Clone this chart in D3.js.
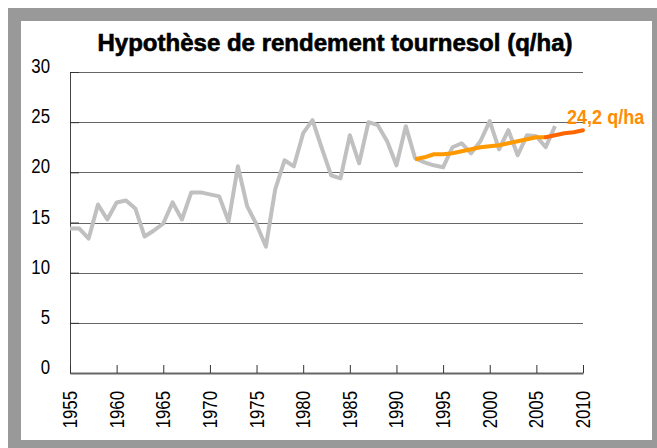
<!DOCTYPE html>
<html>
<head>
<meta charset="utf-8">
<script src="https://cdn.jsdelivr.net/npm/d3@7"></script>
<style>
  body { margin: 0; background: #fff; }
  svg { display: block; }
</style>
</head>
<body>
<div id="chart"></div>
<script>
const width = 657;
const height = 448;

// rendement observé (q/ha), 1955-2007
const histYears = d3.range(1955, 2008);
const histValues = [
  14.4, 14.4, 13.4, 16.8, 15.3, 17.0, 17.2, 16.4, 13.6, 14.2,
  14.9, 17.0, 15.3, 18.0, 18.0, 17.8, 17.6, 15.1, 20.6, 16.6,
  14.8, 12.6, 18.3, 21.2, 20.6, 23.9, 25.2, 22.4, 19.7, 19.4,
  23.7, 20.9, 25.0, 24.7, 23.1, 20.7, 24.6, 21.4, 21.0, 20.7,
  20.5, 22.5, 22.9, 21.9, 23.1, 25.1, 22.3, 24.2, 21.7, 23.7,
  23.6, 22.5, 24.6
];

// tendance / hypothèse
const trendYears = d3.range(1992, 2007);
const trendValues = [21.3, 21.5, 21.8, 21.8, 21.9, 22.1, 22.3, 22.5, 22.6, 22.7, 22.9, 23.1, 23.3, 23.5, 23.5];
const projYears = [2006, 2007, 2008, 2009, 2010];
const projValues = [23.5, 23.7, 23.9, 24.0, 24.2];

const xTicks = d3.range(1955, 2011, 5);
const yTicks = [0, 5, 10, 15, 20, 25, 30];
const title = "Hypothèse de rendement tournesol (q/ha)";
const endLabel = "24,2 q/ha";

const svg = d3.select("#chart")
    .append("svg")
    .attr("width", width)
    .attr("height", height);

// cadre gris
svg.append("rect")
    .attr("x", 8).attr("y", 8)
    .attr("width", width - 8).attr("height", height - 8)
    .attr("fill", "#999");
svg.append("rect")
    .attr("x", 21).attr("y", 21)
    .attr("width", 631).attr("height", 419)
    .attr("fill", "#fff");

const x = d3.scaleLinear().domain([1955, 2010]).range([70, 583]);
const y = d3.scaleLinear().domain([0, 30]).range([373, 72]);

// pas de police "narrow" : on condense Liberation Sans
const font = "'Liberation Sans', Arial, sans-serif";
const squeeze = 0.8;

// grille
svg.append("g")
    .selectAll("line")
    .data(yTicks.filter(d => d > 0))
    .join("line")
    .attr("x1", x(1955)).attr("x2", x(2010))
    .attr("y1", d => Math.round(y(d)) + 0.5)
    .attr("y2", d => Math.round(y(d)) + 0.5)
    .attr("stroke", "#666")
    .attr("stroke-width", 1);

// axe Y
const yAxis = svg.append("g")
    .attr("transform", `translate(${x(1955)},0)`)
    .call(d3.axisRight(y).tickValues(yTicks).tickSize(9).tickFormat(""));
yAxis.select(".domain").attr("stroke", "#444");
yAxis.selectAll(".tick line").attr("stroke", "#333");

svg.append("g")
    .selectAll("text")
    .data(yTicks)
    .join("text")
    .attr("transform", d => `translate(50,${y(d) + 1}) scale(${squeeze},1)`)
    .attr("text-anchor", "end")
    .attr("font-family", font)
    .attr("font-size", 21)
    .attr("fill", "#000")
    .text(d => d);

// axe X
const xAxis = svg.append("g")
    .attr("transform", `translate(0,${y(0)})`)
    .call(d3.axisTop(x).tickValues(xTicks).tickSize(8).tickSizeOuter(0).tickFormat(""));
xAxis.select(".domain").attr("stroke", "#666").attr("stroke-width", 2);
xAxis.selectAll(".tick line").attr("stroke", "#333");

svg.append("g")
    .selectAll("text")
    .data(xTicks)
    .join("text")
    .attr("transform", d => `translate(${x(d) + 7},391) rotate(-90) scale(${squeeze},1)`)
    .attr("text-anchor", "end")
    .attr("font-family", font)
    .attr("font-size", 21)
    .attr("fill", "#000")
    .text(d => d);

const line = d3.line()
    .x(d => x(d[0]))
    .y(d => y(d[1]));

svg.append("path")
    .datum(d3.zip(histYears, histValues))
    .attr("d", line)
    .attr("fill", "none")
    .attr("stroke", "#c0c0c0")
    .attr("stroke-width", 4)
    .attr("stroke-linejoin", "round");

svg.append("path")
    .datum(d3.zip(trendYears, trendValues))
    .attr("d", line)
    .attr("fill", "none")
    .attr("stroke", "#ff9900")
    .attr("stroke-width", 4)
    .attr("stroke-linejoin", "round");

svg.append("path")
    .datum(d3.zip(projYears, projValues))
    .attr("d", line)
    .attr("fill", "none")
    .attr("stroke", "#ff6600")
    .attr("stroke-width", 4)
    .attr("stroke-linecap", "round")
    .attr("stroke-linejoin", "round");

svg.append("text")
    .attr("transform", `translate(567,124) scale(0.86,1)`)
    .attr("font-family", font)
    .attr("font-weight", "bold")
    .attr("font-size", 21)
    .attr("fill", "#ff8c00")
    .text(endLabel);

svg.append("text")
    .attr("x", 335)
    .attr("y", 51)
    .attr("text-anchor", "middle")
    .attr("font-family", font)
    .attr("font-weight", "bold")
    .attr("font-size", 23)
    .attr("textLength", 475)
    .attr("lengthAdjust", "spacingAndGlyphs")
    .attr("stroke", "#000")
    .attr("stroke-width", 0.6)
    .attr("fill", "#000")
    .text(title);
</script>
</body>
</html>
